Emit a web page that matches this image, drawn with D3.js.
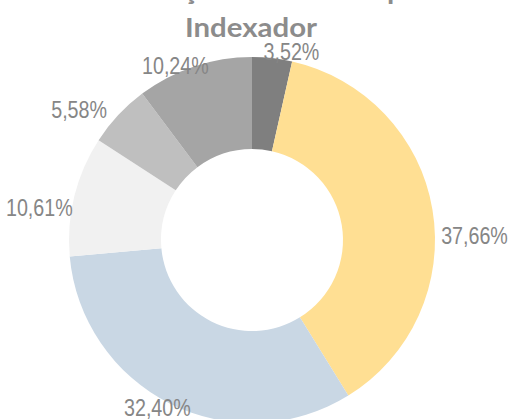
<!DOCTYPE html>
<html>
<head>
<meta charset="utf-8">
<script src="https://cdn.jsdelivr.net/npm/d3@7"></script>
<style>
  body { margin: 0; background: #fff; }
  svg { display: block; }
</style>
</head>
<body>
<svg id="chart" width="511" height="419"></svg>
<script>
"use strict";

// data
const categories = ["A", "B", "C", "D", "E", "F"];
const shares = [3.52, 37.66, 32.40, 10.61, 5.58, 10.24];
const sliceColors = ["#7f7f7f", "#ffdf93", "#c9d7e4", "#f1f1f1", "#bfbfbf", "#a5a5a5"];
const titleLines = ["Distribuição da Carteira por", "Indexador"];

// labels in the original were dragged by hand: [degrees, px] relative to the slice middle
const labelNudge = [[5.4, 0], [8.2, 9], [3.0, -12], [-5.0, 1], [-5.8, 10], [-5.2, -10]];

const width = 511, height = 419;
const cx = 252, cy = 240;
const outerR = 183, innerR = 91;

const svg = d3.select("#chart");

// title (first line mostly cut off by the top edge)
const titleText = svg.append("g")
    .attr("class", "title")
    .selectAll("text")
    .data(titleLines)
    .join("text")
    .attr("x", 251)
    .attr("y", (d, i) => 0 + i * 36.7)
    .attr("text-anchor", "middle")
    .attr("font-family", "Lato, 'Open Sans', sans-serif")
    .attr("font-weight", "bold")
    .attr("font-size", 26)
    .attr("fill", "#8c8c8c")
    .text(d => d);

// stretch to the width of the original Calibri title
const titleScale = 132 / titleText.nodes()[1].getComputedTextLength();
titleText.each(function() {
    const w = this.getComputedTextLength();
    d3.select(this)
        .attr("textLength", w * titleScale)
        .attr("lengthAdjust", "spacingAndGlyphs");
});

const pie = d3.pie()
    .value(d => d)
    .sort(null);
const arcs = pie(shares);

const arc = d3.arc()
    .innerRadius(innerR)
    .outerRadius(outerR);

const g = svg.append("g")
    .attr("transform", `translate(${cx},${cy})`);

g.selectAll("path.slice")
    .data(arcs)
    .join("path")
    .attr("class", "slice")
    .attr("d", arc)
    .attr("fill", (d, i) => sliceColors[i]);

const fmt = v => v.toFixed(2).replace(".", ",") + "%";
const labelR = 180, halfH = 8.5;
const narrow = 0.82; // Arial Narrow vs Arial

g.selectAll("text.label")
    .data(arcs)
    .join("text")
    .attr("class", "label")
    .attr("text-anchor", "middle")
    .attr("dominant-baseline", "central")
    .attr("font-family", "'Liberation Sans', Arial, sans-serif")
    .attr("font-size", 24)
    .attr("fill", "#868686")
    .text(d => fmt(d.data))
    .each(function(d, i) {
        const w = this.getComputedTextLength() * narrow;
        const a = (d.startAngle + d.endAngle) / 2 + labelNudge[i][0] * Math.PI / 180;
        const s = Math.sin(a), c = Math.cos(a);
        const r = labelR + labelNudge[i][1] + Math.abs(s) * w / 2 + Math.abs(c) * halfH;
        d3.select(this)
            .attr("textLength", w)
            .attr("lengthAdjust", "spacingAndGlyphs")
            .attr("x", r * s)
            .attr("y", -r * c + 1);
    });
</script>
</body>
</html>
